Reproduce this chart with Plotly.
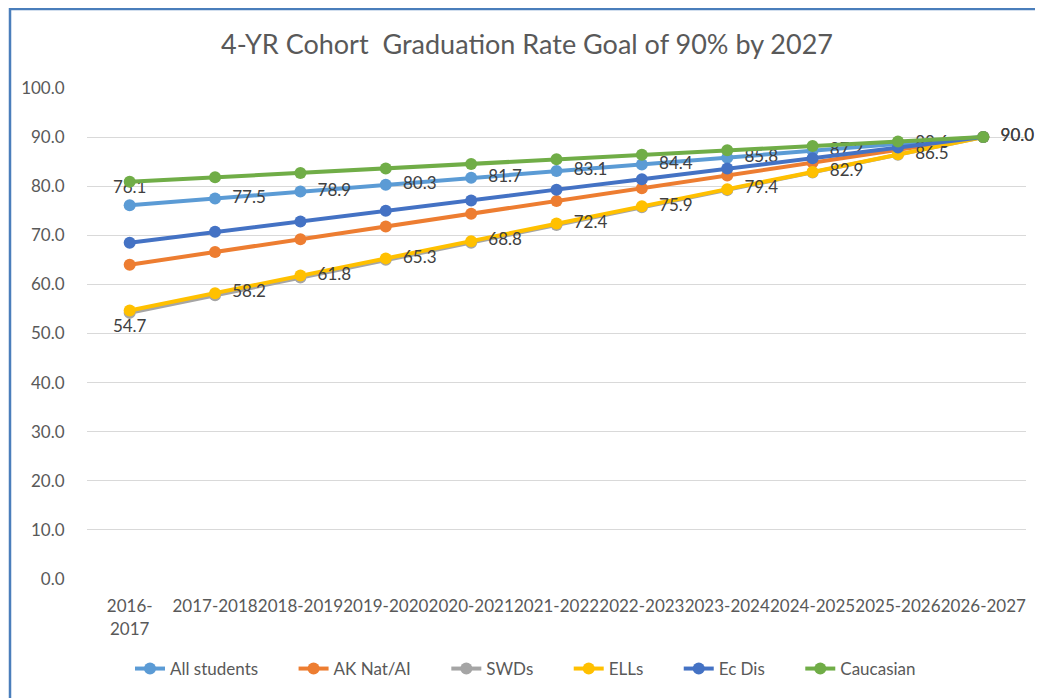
import plotly.graph_objects as go

categories = ["2016-<br>2017", "2017-2018", "2018-2019", "2019-2020", "2020-2021",
              "2021-2022", "2022-2023", "2023-2024", "2024-2025", "2025-2026", "2026-2027"]

all_students = [76.1, 77.5, 78.9, 80.3, 81.7, 83.1, 84.4, 85.8, 87.2, 88.6, 90.0]
ak_nat_ai = [64.0, 66.6, 69.2, 71.8, 74.4, 77.0, 79.6, 82.2, 84.8, 87.4, 90.0]
swds = [54.2, 57.8, 61.4, 65.0, 68.5, 72.1, 75.7, 79.2, 82.8, 86.4, 90.0]
ells = [54.7, 58.2, 61.8, 65.3, 68.8, 72.4, 75.9, 79.4, 82.9, 86.5, 90.0]
ec_dis = [68.5, 70.7, 72.8, 75.0, 77.1, 79.3, 81.4, 83.6, 85.7, 87.9, 90.0]
caucasian = [80.9, 81.8, 82.7, 83.6, 84.5, 85.5, 86.4, 87.3, 88.2, 89.1, 90.0]

series = [
    ("All students", all_students, "#5B9BD5"),
    ("AK Nat/AI", ak_nat_ai, "#ED7D31"),
    ("SWDs", swds, "#A5A5A5"),
    ("ELLs", ells, "#FFC000"),
    ("Ec Dis", ec_dis, "#4472C4"),
    ("Caucasian", caucasian, "#70AD47"),
]

FONT = "Lato, 'Open Sans', sans-serif"
PAD = "\u00a0" * 7
NB = "\u00a0\u00a0"


def labels(vals):
    return [f"{vals[0]:.1f}"] + [NB + f"{v:.1f}" for v in vals[1:]]


fig = go.Figure()
for name, vals, color in series:
    kw = {}
    mode = "lines+markers"
    if name == "All students":
        mode = "lines+markers+text"
        kw["text"] = labels(vals)
        kw["textposition"] = ["top center"] + ["middle right"] * (len(vals) - 1)
    elif name == "ELLs":
        mode = "lines+markers+text"
        kw["text"] = labels(vals)
        kw["textposition"] = ["bottom center"] + ["middle right"] * (len(vals) - 1)
    fig.add_trace(go.Scatter(
        x=categories, y=vals, name=name + PAD, mode=mode,
        line=dict(color=color, width=4),
        marker=dict(color=color, size=12),
        textfont=dict(family=FONT, size=17, color="#404040"),
        cliponaxis=False,
        **kw,
    ))

# page has an 8px body margin: design in reference px minus 8
OFF = 8
W, H = 1043, 698
L = 87 - OFF
T = 88 - OFF
plot_right = 1026 - OFF
plot_bottom = 579 - OFF
R = W - plot_right
B = H - plot_bottom
pw, ph = W - L - R, H - T - B


def px(x):
    return (x - OFF - L) / pw


def py(y):
    return (plot_bottom - (y - OFF)) / ph


fig.update_layout(
    width=W, height=H,
    margin=dict(l=L, r=R, t=T, b=B, autoexpand=False),
    paper_bgcolor="white", plot_bgcolor="white",
    title=dict(text="4-YR Cohort  Graduation Rate Goal of 90% by 2027",
               font=dict(family=FONT, size=27, color="#595959"),
               x=(527 - OFF) / W, xref="container", xanchor="center",
               y=1 - (45 - OFF) / H, yref="container", yanchor="middle"),
    font=dict(family=FONT, size=17, color="#595959"),
    showlegend=True,
    legend=dict(orientation="h", x=px(130), xanchor="left", y=py(669), yanchor="middle",
                font=dict(family=FONT, size=17, color="#595959"),
                itemwidth=30, tracegroupgap=0, bgcolor="rgba(0,0,0,0)"),
    xaxis=dict(type="category", range=[-0.5, 10.5], showgrid=False, zeroline=False,
               showline=False, ticks="outside", ticklen=12, tickcolor="rgba(0,0,0,0)",
               tickfont=dict(family=FONT, size=17, color="#595959"), tickangle=0),
    yaxis=dict(range=[0, 100], dtick=10, tickformat=".1f", showgrid=True,
               gridcolor="#D9D9D9", gridwidth=1, zeroline=False, showline=False,
               ticks="outside", ticklen=18, tickcolor="rgba(0,0,0,0)",
               tickfont=dict(family=FONT, size=17, color="#595959")),
    shapes=[dict(type="rect", xref="paper", yref="paper",
                 x0=px(10), x1=px(1060), y0=py(720), y1=py(9),
                 line=dict(color="#4A7EBB", width=2.5), fillcolor="rgba(0,0,0,0)",
                 layer="below")],
)

fig.write_html("out.html")
